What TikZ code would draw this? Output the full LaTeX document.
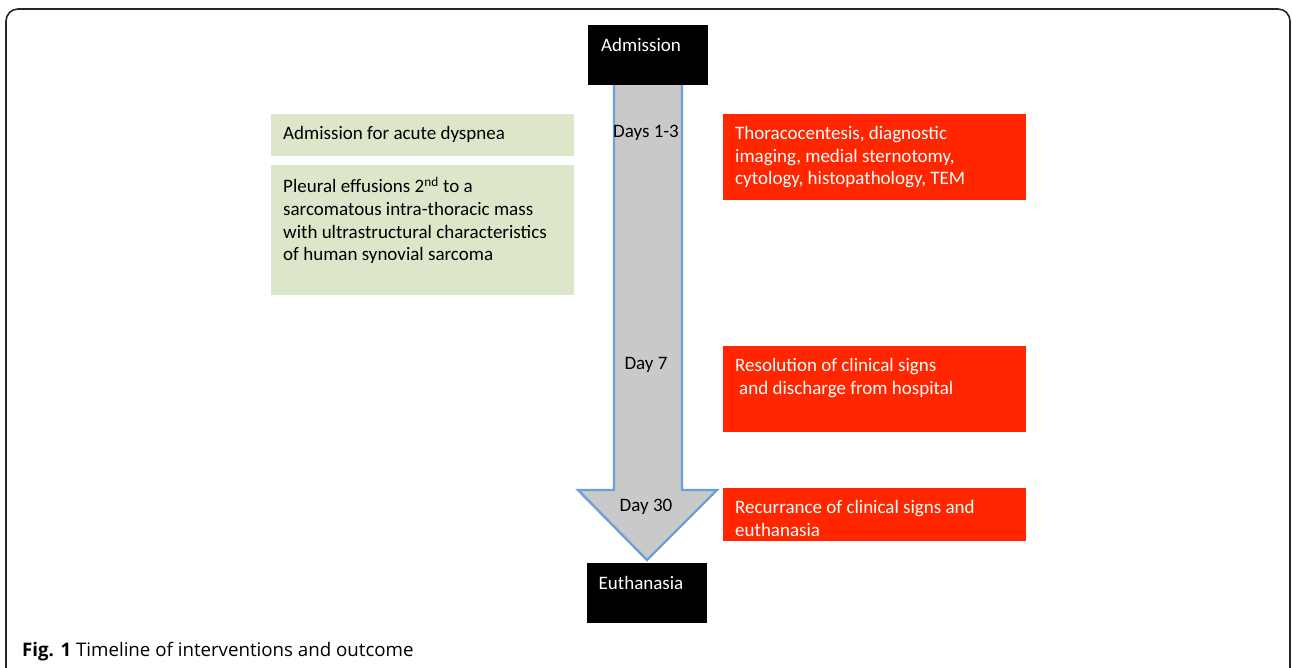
\documentclass[tikz,border=0pt]{standalone}
\usepackage{fontspec}
\setmainfont{Carlito}
\newfontfamily\capfont{Open Sans}
\definecolor{gboxc}{HTML}{DCE6C9}
\definecolor{rboxc}{HTML}{FF2600}
\definecolor{arrfill}{HTML}{C9C9C9}
\definecolor{arrline}{HTML}{6E9FD6}
\begin{document}
\begin{tikzpicture}[x=1pt,y=-1pt,
  frame/.style={draw=black!85,line width=1.6pt,rounded corners=12pt},
  blackbox/.style={fill=black,draw=none},
  gbox/.style={fill=gboxc,draw=none},
  rbox/.style={fill=rboxc,draw=none},
  txt/.style={anchor=north west,inner sep=0pt,align=left,font=\fontsize{19}{22.7}\selectfont},
  wtxt/.style={txt,text=white},
  daylbl/.style={anchor=north,inner sep=0pt,font=\fontsize{19}{22.7}\selectfont},
  arrowshape/.style={fill=arrfill,draw=arrline,line width=2.4pt,line join=miter}
]
\useasboundingbox (0,0) rectangle (1292,668);
\draw[frame] (6,672) -- (6,9) -- (1290,9) -- (1290,672);
% arrow
\draw[arrowshape] (614,80) -- (682,80) -- (682,490) -- (717,490) -- (647,560) -- (578,490) -- (614,490) -- cycle;
% black boxes
\path[blackbox] (588,25) rectangle (708,85);
\node[anchor=north,inner sep=0pt,text=white,font=\fontsize{19}{22.7}\selectfont] (adm) at (641,38) {Admission};
\path[blackbox] (587,563) rectangle (707,623);
\node[anchor=north,inner sep=0pt,text=white,font=\fontsize{19}{22.7}\selectfont] (eut) at (641,576) {Euthanasia};
% day labels
\node[daylbl] (d13) at (646,125) {Days 1-3};
\node[daylbl] (d7) at (646,357) {Day 7};
\node[daylbl] (d30) at (646,499) {Day 30};
% green boxes
\path[gbox] (271,114) rectangle (574,156);
\node[txt] (g1) at (283,126) {Admission for acute dyspnea};
\path[gbox] (271,165) rectangle (574,295);
\node[txt] (g2) at (283,177) {Pleural effusions 2\textsuperscript{nd} to a\\sarcomatous intra-thoracic mass\\with ultrastructural characteristics\\of human synovial sarcoma};
% red boxes
\path[rbox] (723,114) rectangle (1026,200);
\node[wtxt] (r1) at (735,126) {Thoracocentesis, diagnostic\\imaging, medial sternotomy,\\cytology, histopathology, TEM};
\path[rbox] (723,346) rectangle (1026,432);
\node[wtxt] (r2) at (735,358) {Resolution of clinical signs\\\hspace*{4pt}and discharge from hospital};
\path[rbox] (723,488) rectangle (1026,541);
\node[wtxt] (r3) at (735,500) {Recurrance of clinical signs and\\euthanasia};
% caption
\node[anchor=base west,inner sep=0pt,font=\capfont\fontsize{18.7}{22}\selectfont] (cap) at (22,656) {\textbf{Fig. 1} Timeline of interventions and outcome};
\end{tikzpicture}
\end{document}
